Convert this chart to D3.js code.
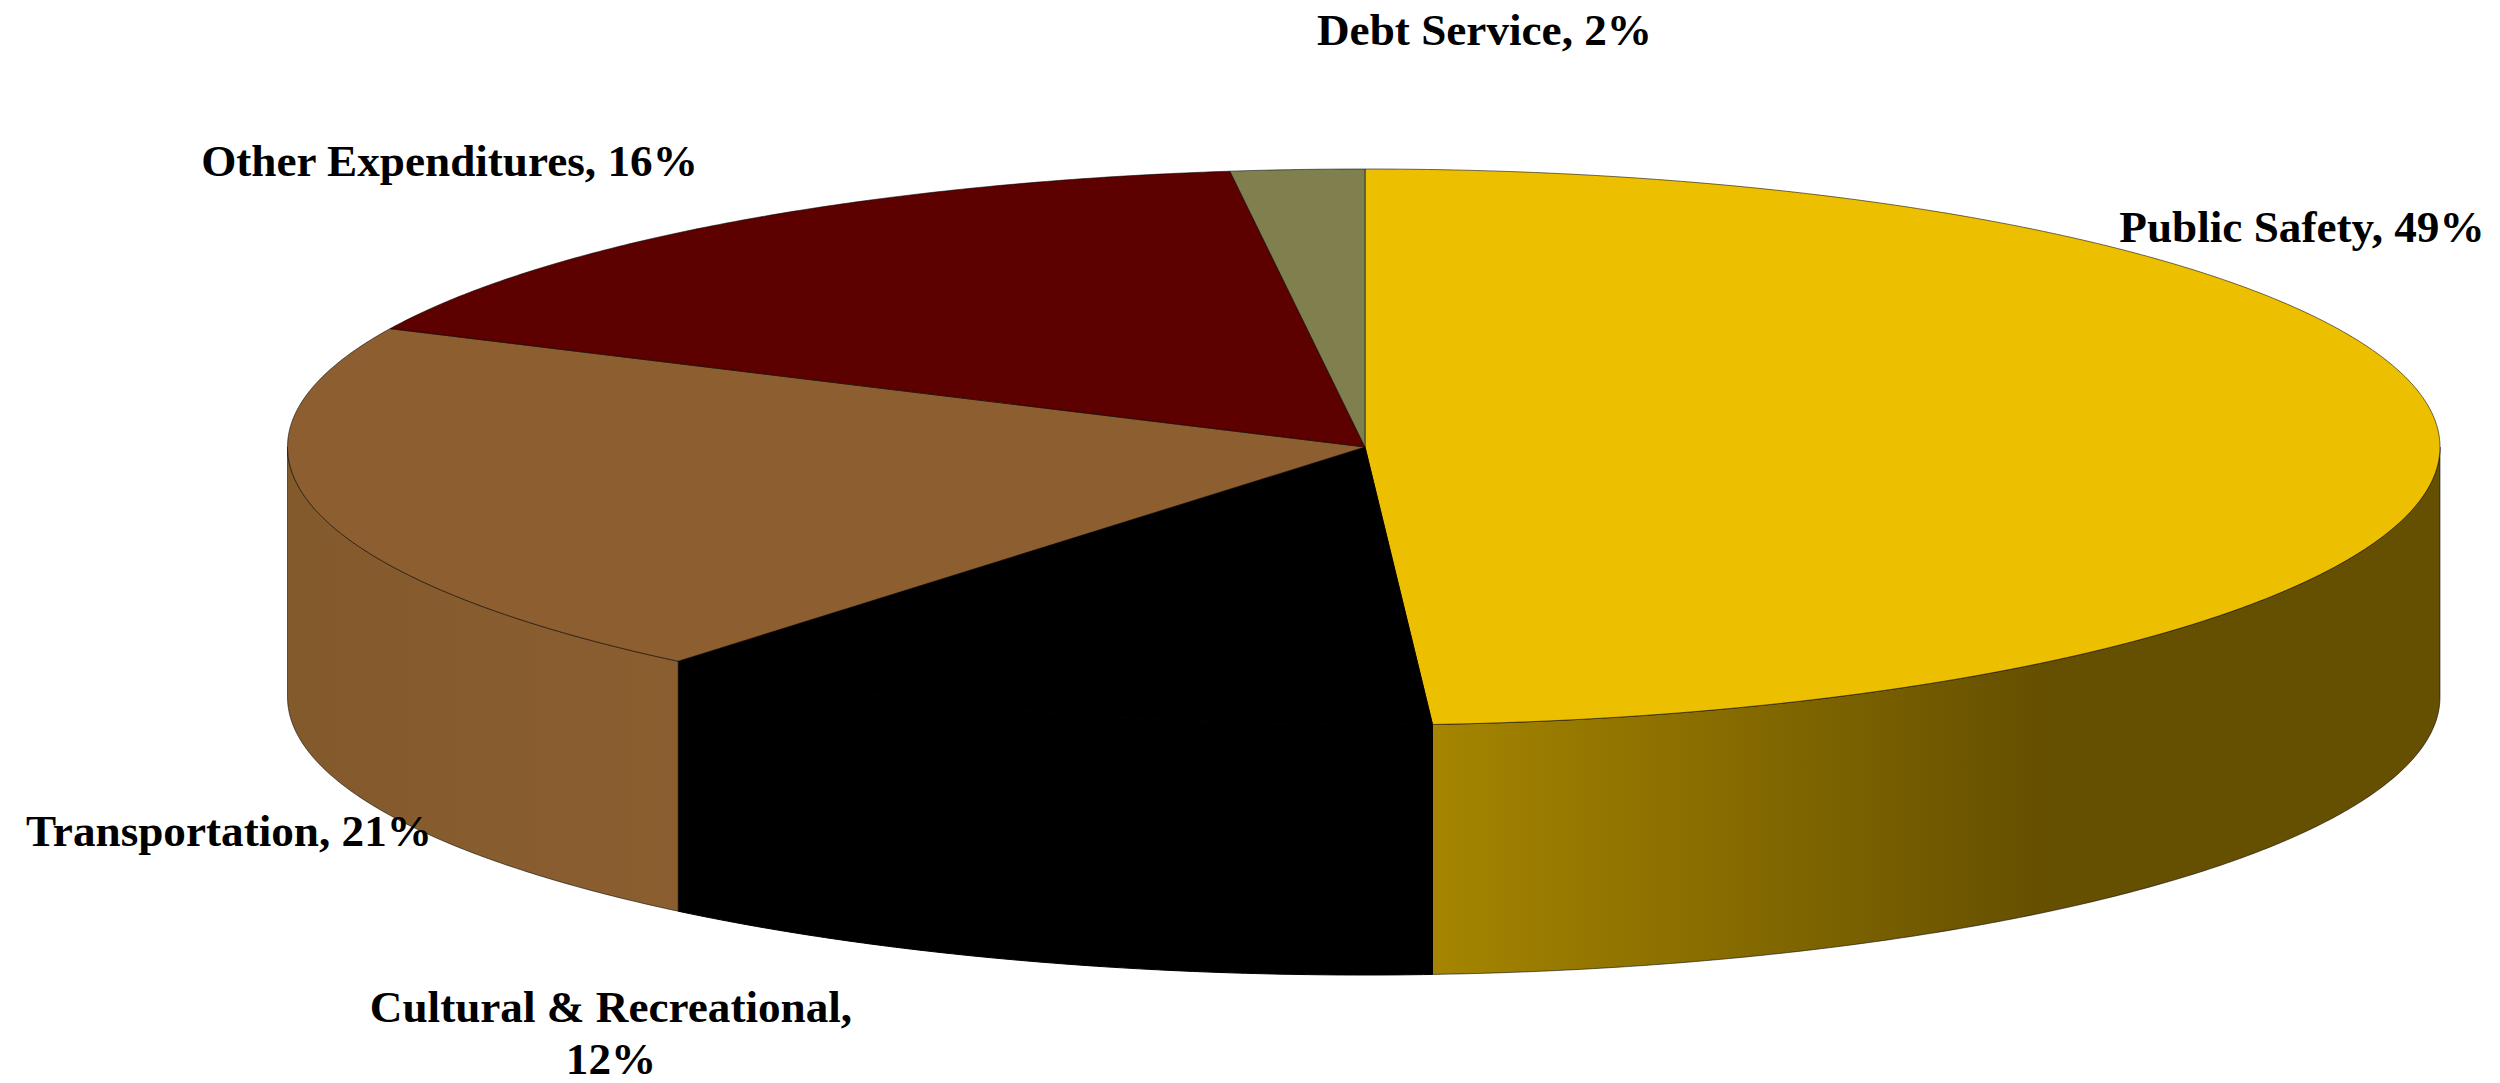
<!DOCTYPE html>
<html><head><meta charset="utf-8">
<script src="https://cdn.jsdelivr.net/npm/d3@7/dist/d3.min.js"></script>
<style>html,body{margin:0;padding:0;background:#fff;overflow:hidden}svg{display:block}
text{font-family:"Liberation Serif","Times New Roman",serif;font-weight:bold;font-size:45.2px;fill:#000;text-anchor:middle}</style>
</head><body>
<script>
// Data, clockwise from 12 o'clock
const categories = ["Public Safety", "Cultural & Recreational", "Transportation", "Other Expenditures", "Debt Service"];
const shares = [49, 12, 21, 16, 2];

// Styles
const topColors = ["#ECBF00", "#000000", "#8C5E30", "#5C0000", "#80804F"];
const sideFills = ["url(#sideA)", "#000000", "url(#sideC)", "none", "none"];

// Label layout: [text, centre x, baseline y]
const labelLines = [
  [[`${categories[0]}, ${shares[0]}%`, 2302, 242]],
  [[`${categories[1]},`, 611, 1022], [`${shares[1]}%`, 611, 1074]],
  [[`${categories[2]}, ${shares[2]}%`, 229, 846]],
  [[`${categories[3]}, ${shares[3]}%`, 449.5, 176]],
  [[`${categories[4]}, ${shares[4]}%`, 1484.5, 45]]
];

const W = 2500, H = 1083;
const cx = 1365, cy = 447, ry = 278, depth = 250;
const sx = d3.scaleLinear().domain([-1, 0, 1]).range([287.5, cx, 2440]);
const sy = d3.scaleLinear().domain([-1, 1]).range([cy - ry, cy + ry]);

const svg = d3.select("body").append("svg").attr("width", W).attr("height", H);
const defs = svg.append("defs");
function grad(id, x1, x2, stops) {
  const g = defs.append("linearGradient").attr("id", id).attr("gradientUnits", "userSpaceOnUse")
    .attr("x1", x1).attr("x2", x2).attr("y1", 0).attr("y2", 0);
  stops.forEach(([o, c]) => g.append("stop").attr("offset", o).attr("stop-color", c));
}
grad("sideA", 1433, 2050, [[0, "#A58500"], [1, "#654F00"]]);
grad("sideC", 289, 676, [[0, "#835A2C"], [1, "#8B5E30"]]);

const pie = d3.pie().sort(null).startAngle(0).endAngle(2 * Math.PI);
const arcs = pie(shares);
const line = d3.line().x(p => p[0]).y(p => p[1]);
const rim = (a, dy = 0) => [sx(Math.sin(a)), sy(-Math.cos(a)) + dy];
function samples(a0, a1) {
  const n = Math.max(2, Math.ceil(Math.abs(a1 - a0) * 120));
  return d3.range(n + 1).map(i => a0 + (a1 - a0) * i / n);
}
const strokeOpacity = d => topColors[d.index] === "#000000" ? 1 : 0.55;

// Outer wall: only the front half of the disc (90° to 270°) is visible
const HALF = Math.PI / 2;
svg.append("g").selectAll("path").data(arcs.filter(d => sideFills[d.index] !== "none")).join("path")
  .attr("d", d => {
    const a0 = Math.max(d.startAngle, HALF), a1 = Math.min(d.endAngle, 3 * HALF);
    const t = samples(a0, a1);
    return line(t.map(a => rim(a)).concat(t.slice().reverse().map(a => rim(a, depth)))) + "Z";
  })
  .attr("fill", d => sideFills[d.index])
  .attr("stroke", "#000").attr("stroke-opacity", strokeOpacity).attr("stroke-width", 1);

// Top face
svg.append("g").selectAll("path").data(arcs).join("path")
  .attr("d", d => line([[sx(0), sy(0)]].concat(samples(d.startAngle, d.endAngle).map(a => rim(a)))) + "Z")
  .attr("fill", d => topColors[d.index])
  .attr("stroke", "#000").attr("stroke-opacity", strokeOpacity).attr("stroke-width", 1);

// Labels
svg.append("g").selectAll("text").data(labelLines.flat()).join("text")
  .attr("x", d => d[1]).attr("y", d => d[2]).text(d => d[0]);
</script>
</body></html>
